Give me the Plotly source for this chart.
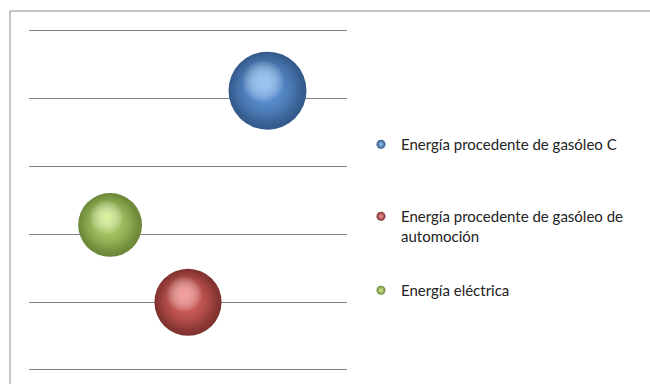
import plotly.graph_objects as go

# Energy sources shown as bubbles
series = [
    "Energía procedente de gasóleo C",
    "Energía procedente de gasóleo de<br>automoción",
    "Energía eléctrica",
]
x_vals = [7.5, 5.0, 2.55]
y_vals = [4.12, 1.0, 2.14]
bubble_sizes = [100, 74, 67]

# sphere palette: highlight, body, rim
light_colors = ["#93c4f5", "#f59a98", "#ddf393"]
base_colors = ["#5b92d4", "#d05e5b", "#a9c966"]
body_fade = ["rgba(91,146,212,0)", "rgba(208,94,91,0)", "rgba(169,201,102,0)"]
dark_colors = ["#34598a", "#7e302e", "#6a8637"]

W, H = 650, 384
M = dict(l=29, r=303, t=20, b=5)
X_RANGE = [0, 10]
Y_RANGE = [-0.133, 5.162]
MAX_D = 78  # largest bubble diameter in px
sizeref = 2.0 * max(bubble_sizes) / (MAX_D ** 2)

plot_w = W - M["l"] - M["r"]
plot_h = H - M["t"] - M["b"]
px_x = plot_w / (X_RANGE[1] - X_RANGE[0])
px_y = plot_h / (Y_RANGE[1] - Y_RANGE[0])

fig = go.Figure()


def sphere_layer(x, y, size, edge, centre):
    fig.add_trace(go.Scatter(
        x=[x], y=[y], mode="markers", showlegend=False, hoverinfo="skip",
        marker=dict(size=[size], sizemode="area", sizeref=sizeref, opacity=1,
                    color=edge, line=dict(width=0),
                    gradient=dict(type="radial", color=centre)),
    ))


for i, name in enumerate(series):
    d_px = (bubble_sizes[i] / sizeref) ** 0.5
    ox, oy = d_px / px_x, d_px / px_y
    # body: base colour darkening towards the rim
    sphere_layer(x_vals[i], y_vals[i], bubble_sizes[i], dark_colors[i], base_colors[i])
    # lit part of the body, shifted up-left so the rim is darker bottom-right
    sphere_layer(x_vals[i] - 0.05 * ox, y_vals[i] + 0.06 * oy,
                 bubble_sizes[i] * 0.8, body_fade[i], base_colors[i])
    # soft specular highlight
    sphere_layer(x_vals[i] - 0.08 * ox, y_vals[i] + 0.17 * oy,
                 bubble_sizes[i] * 0.3, "rgba(255,255,255,0)", light_colors[i])

# legend: one small sphere per series, each in its own legend box
legend_tops = [128, 200, 274]
for i, name in enumerate(series):
    fig.add_trace(go.Scatter(
        x=[None], y=[None], mode="markers", name=name,
        legend="legend" if i == 0 else f"legend{i + 1}",
        marker=dict(size=9, opacity=1, color=dark_colors[i], line=dict(width=0),
                    gradient=dict(type="radial", color=light_colors[i])),
    ))

legend_style = dict(xanchor="left", yanchor="top", valign="top", itemwidth=30,
                    bgcolor="rgba(0,0,0,0)",
                    font=dict(family="Lato, sans-serif", size=15, color="#222222"))
legends = {}
for i, top in enumerate(legend_tops):
    key = "legend" if i == 0 else f"legend{i + 1}"
    legends[key] = dict(x=(361 - M["l"]) / plot_w,
                        y=1 - (top - M["t"]) / plot_h, **legend_style)

# outer chart frame
fig.add_shape(type="rect", xref="paper", yref="paper",
              x0=(10 - M["l"]) / plot_w, x1=(W + 10 - M["l"]) / plot_w,
              y0=-0.1, y1=1 + 9 / plot_h,
              line=dict(color="#8c8c8c", width=1), fillcolor="rgba(0,0,0,0)",
              layer="below")

fig.update_layout(
    width=W, height=H, margin=M,
    paper_bgcolor="white", plot_bgcolor="white",
    font=dict(family="Lato, sans-serif", size=15, color="#222222"),
    xaxis=dict(range=X_RANGE, visible=False, showgrid=False, zeroline=False),
    yaxis=dict(range=Y_RANGE, showgrid=True, gridcolor="#808080", gridwidth=1,
               dtick=1, tick0=0, zeroline=False, showticklabels=False,
               ticks="", showline=False),
    showlegend=True,
    **legends,
)

fig.write_html("out.html")
